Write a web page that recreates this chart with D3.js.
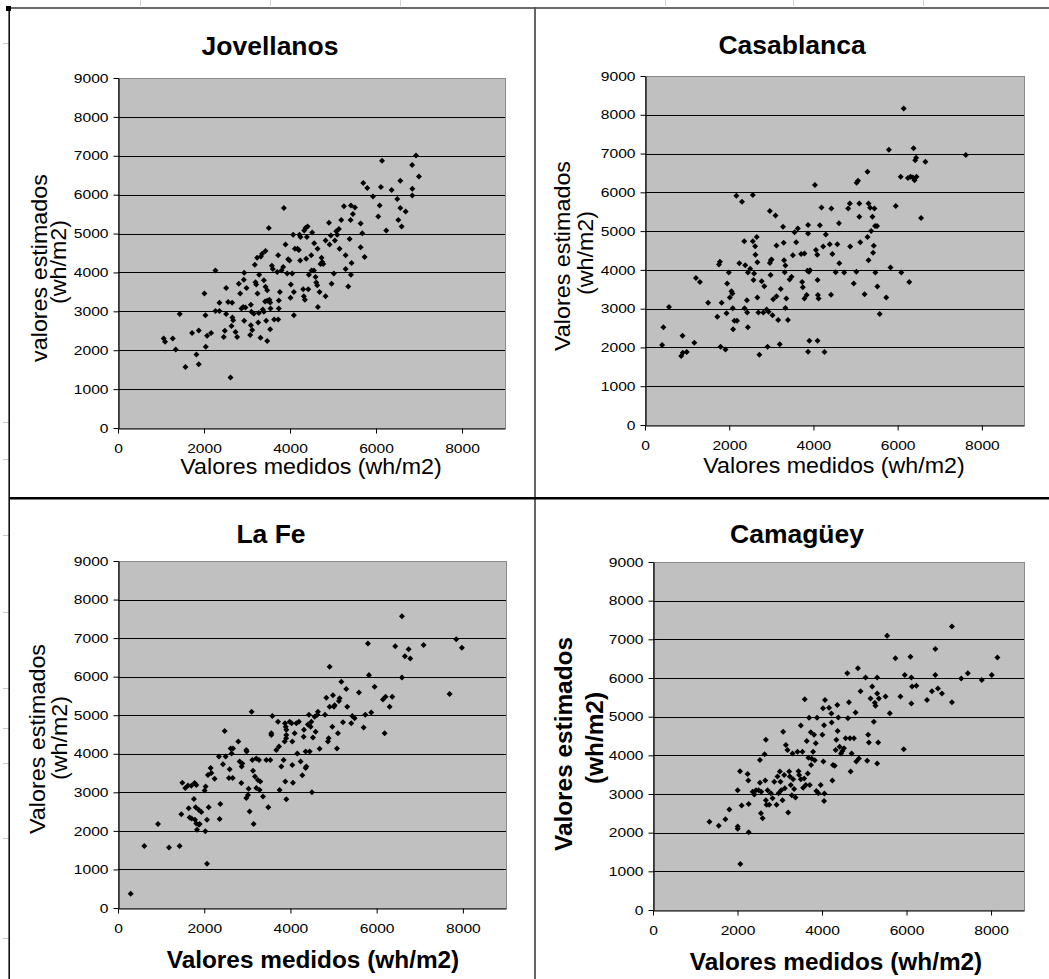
<!DOCTYPE html>
<html>
<head>
<meta charset="utf-8">
<script src="https://cdn.jsdelivr.net/npm/d3@7"></script>
<style>
  html, body { margin: 0; padding: 0; background: #fff; }
  svg { display: block; font-family: "Liberation Sans", Arial, Helvetica, sans-serif; }
</style>
</head>
<body>
<svg id="chart" width="1049" height="979"></svg>
<script>
// ---- Data: measured vs estimated daily radiation (wh/m2) per station ----
const stations = ["Jovellanos", "Casablanca", "La Fe", "Camagüey"];
const yTickValues = [0, 1000, 2000, 3000, 4000, 5000, 6000, 7000, 8000, 9000];
const xTickValues = [0, 2000, 4000, 6000, 8000];
const xAxisLabel = "Valores medidos (wh/m2)";

const jovellanosMedidos = [
  1063,1094,1273,1343,1436,1568,1723,1824,1878,1878,
  2010,2033,2041,2072,2165,2266,2266,2359,2359,2460,
  2484,2514,2514,2561,2616,2639,2654,2662,2678,2732,
  2771,2810,2841,2872,2934,2926,2911,2934,2989,2965,
  3090,3074,3090,3121,3105,3160,3182,3198,3213,3236,
  3244,3260,3275,3283,3314,3322,3353,3368,3392,3392,
  3430,3430,3446,3470,3470,3420,3470,3520,3540,3508,
  3539,3547,3578,3601,3632,3725,3740,3740,3764,3725,
  3702,3803,3857,3841,3896,3934,3958,3989,4012,4020,
  4051,4074,4090,4090,4113,4175,4206,4221,4237,4245,
  4307,4322,4346,4330,4361,4377,4393,4408,4424,4439,
  4494,4501,4516,4556,4563,4594,4610,4633,4641,4649,
  4688,4711,4734,4750,4773,4827,4827,4905,4920,4951,
  4967,5021,5044,5075,5099,5138,5153,5192,5254,5293,
  5293,5355,5386,5409,5417,5417,5432,5463,5510,5642,
  5642,5681,5735,5704,5797,5929,6053,6084,6115,6140,
  6239,6363,6495,6519,6565,6565,6596,6689,6840,6844,
  6844,6999,6930
];
const jovellanosEstimados = [
  2300,2220,2300,2020,2930,1570,2440,1890,2510,1640,
  3460,2900,2090,2370,2440,4050,3010,3220,3010,2340,
  2500,3600,2930,3240,1300,2620,3220,2840,2770,2470,
  2340,3710,3460,3070,3990,3810,3110,2760,3600,3100,
  3170,2390,2640,2520,2990,2940,4200,3750,3690,4380,
  3460,2710,2960,3940,2320,4410,4480,3050,3800,2990,
  4550,3630,2760,2240,3540,3250,3270,3300,3230,5140,
  2540,3070,4170,4090,2790,2790,3280,3070,3500,4440,
  4010,4050,5660,4140,4720,3970,4340,4310,3350,3690,
  3970,4970,2900,3500,4610,4610,4580,4970,4310,4910,
  3570,3390,3300,5080,5140,4350,4910,5180,3570,3940,
  4440,4050,5030,4050,4750,3880,3740,3670,4610,3110,
  3500,4220,4380,4270,4220,3390,4820,5280,4720,4950,
  3710,3970,4820,5060,4970,5120,4610,5350,5700,4440,
  4090,3640,4860,5350,5720,3940,4240,5500,5670,5260,
  4650,5010,4400,6300,6170,5950,5440,5720,6200,6870,
  5080,6120,5890,5350,6360,5660,5180,5570,6760,6150,
  5980,6470,7010
];

const casablancaMedidos = [
  406,437,570,859,898,890,991,1171,1210,1304,
  1499,1717,1756,1780,1795,1819,1912,1936,1951,1990,
  2014,2053,2076,2084,2092,2123,2170,2186,2240,2303,
  2357,2365,2381,2420,2427,2443,2443,2498,2560,2560,
  2576,2591,2615,2623,2654,2669,2669,2692,2716,2771,
  2810,2833,2888,2911,2935,2966,2966,2989,3005,2982,
  3028,3044,3099,3122,3122,3161,3200,3223,3278,3294,
  3302,3317,3333,3333,3356,3395,3434,3481,3512,3551,
  3590,3629,3708,3731,3747,3786,3786,3840,3856,3872,
  3872,3872,3895,3918,3903,4035,4059,4090,4098,4106,
  4122,4098,4153,4192,4231,4262,4294,4387,4426,4418,
  4450,4528,4567,4606,4614,4730,4825,4864,4872,4957,
  5020,5026,5058,5089,5089,5112,5214,5284,5284,5307,
  5307,5346,5370,5401,5416,5432,5448,5463,5471,5510,
  5518,5573,5729,5791,5830,5955,6072,6087,6143,6275,
  6244,6306,6361,6377,6400,6416,6439,6447,6556,6658,
  7618
];
const casablancaEstimados = [
  2060,2520,3040,1780,1860,2300,1880,2120,3790,3690,
  3150,2790,4140,4210,2020,3150,1950,2880,3650,3930,
  3290,3450,3390,3010,2470,2690,5910,2690,4170,5760,
  4740,3010,4120,3220,2900,2520,3930,4030,5930,4740,
  3740,3910,4610,4390,4850,4200,3290,2900,1810,3710,
  2900,3580,2980,2020,2920,5520,4180,4250,4270,3870,
  2830,3240,5400,4630,3320,2710,2080,3510,5110,4700,
  4250,3940,3020,4110,3260,2710,3750,3820,4380,4970,
  4710,5070,4410,3690,3550,4420,3260,3350,3980,4940,
  5160,1890,3950,3990,2170,6190,4510,4390,3740,3350,
  3260,2170,5150,5610,4600,1880,4910,4660,5580,3360,
  4410,3940,4660,5200,4170,3930,5580,5710,4600,3650,
  3950,6250,6300,5710,5370,4710,3370,6530,4850,4250,
  5710,5600,5000,5370,4440,4620,5580,5130,3930,5130,
  3570,2860,3290,7100,4060,5650,6400,3930,8160,3690,
  6370,6400,6380,7140,6310,6830,6890,6400,5340,6790,
  6960
];

const laFeMedidos = [
  294,611,928,1183,1430,1469,1492,1561,1623,1639,
  1662,1700,1708,1762,1778,1786,1801,1817,1817,1832,
  1871,1878,1894,1933,2010,2026,2033,2064,2064,2087,
  2103,2149,2164,2242,2342,2358,2373,2435,2474,2497,
  2574,2590,2613,2636,2660,2667,2791,2821,2860,2868,
  2883,2976,2984,2976,3015,3030,3053,3100,3115,3131,
  3146,3177,3208,3208,3246,3270,3285,3301,3363,3440,
  3486,3533,3556,3556,3579,3672,3711,3734,3749,3788,
  3842,3865,3873,3881,3904,3904,3904,3890,3900,3981,
  4027,4043,4043,4058,4097,4136,4159,4197,4236,4275,
  4306,4313,4352,4368,4352,4406,4429,4445,4468,4484,
  4499,4522,4561,4584,4623,4638,4677,4801,4832,4870,
  4886,4909,4909,4971,4986,5009,5025,5079,5102,5125,
  5141,5180,5218,5295,5318,5411,5434,5489,5589,5697,
  5736,5798,5821,5875,5952,6145,6184,6207,6300,6362,
  6431,6586,6586,6655,6741,6779,7088,7691,7846,7977
];
const laFeEstimados = [
  370,1610,2180,1570,1610,2430,3250,3110,3180,2590,
  2350,3170,2320,2830,3240,2290,2610,3190,2190,2030,
  2550,2160,2180,2490,3050,1990,3150,2290,1150,3450,
  2610,3630,3500,3350,3930,2310,2700,3730,4590,3930,
  3370,3600,4140,4010,3370,4140,4320,3800,3240,3670,
  3750,4100,4060,2850,2930,3090,2500,5090,3840,3560,
  2180,3410,3110,3880,3320,3840,3060,3280,2890,3840,
  2610,3840,4530,4490,4980,4100,4830,4190,3060,3670,
  3840,4320,4790,3280,2820,4620,4490,4700,4400,4830,
  4790,4320,3710,3250,4530,4790,4010,4830,3800,3440,
  4440,4620,3630,3670,4060,4760,5010,4060,4700,4830,
  3000,4420,4960,4570,5010,5090,4130,5010,5450,4320,
  4400,6260,5220,4700,5520,5220,5260,4140,4530,5370,
  5440,5870,4820,5680,5220,4790,4980,4920,5590,4680,
  5010,6860,6040,5070,5740,5410,4530,5480,5220,5480,
  6790,7570,5980,6530,6710,6470,6820,5550,6970,6750
];

const camagueyMedidos = [
  1336,1556,1713,1808,2004,2004,2004,2059,2067,2098,
  2240,2256,2264,2264,2358,2397,2437,2500,2531,2531,
  2555,2562,2594,2641,2657,2672,2672,2688,2712,2751,
  2790,2830,2869,2924,2947,2971,3002,3018,3034,3065,
  3081,3105,3120,3144,3183,3199,3223,3238,3262,3285,
  3301,3317,3340,3372,3419,3443,3458,3498,3498,3537,
  3553,3576,3592,3616,3639,3663,3678,3694,3710,3733,
  3741,3757,3788,3812,3828,3851,3867,3883,3914,3969,
  4009,4024,4032,4048,4048,4056,4071,4166,4221,4229,
  4245,4260,4300,4323,4339,4362,4370,4386,4417,4449,
  4480,4520,4559,4598,4614,4637,4661,4677,4700,4755,
  4794,4810,4850,4873,4912,5030,5069,5093,5109,5148,
  5187,5226,5250,5266,5305,5305,5305,5329,5345,5502,
  5541,5604,5738,5856,5934,5958,6092,6115,6115,6131,
  6233,6484,6602,6681,6681,6744,6838,7074,7074,7294,
  7451,7781,8017,8151
];
const camagueyEstimados = [
  2280,2180,2350,2600,3100,2160,2100,3590,1190,2700,
  3520,3350,2740,2010,3060,2990,3100,3100,3880,3290,
  2500,3060,2370,4030,3350,4400,2840,2720,3100,2720,
  3020,2890,3320,2720,3450,3020,3580,3320,3100,2840,
  4610,3490,3150,4270,4140,2520,3580,3450,3230,2970,
  4050,3380,3130,2910,4090,3590,3490,4770,3380,4090,
  3160,3400,5450,3230,4370,3530,3940,4970,3230,4600,
  3750,3910,4090,4530,3870,4310,3080,4970,3020,3230,
  4530,5220,3840,2820,4780,3010,5430,5230,5080,4850,
  3350,3750,3730,4140,4400,5300,4630,4980,4220,4050,
  4110,4180,4440,6120,4960,5370,4440,3580,4050,4440,
  5110,3840,6250,3920,5660,6010,3860,4530,4330,5470,
  5780,4870,5360,5280,6010,3790,5600,4330,5470,5520,
  7090,5090,6510,5520,4160,6080,6550,6010,5340,5780,
  5800,5430,5660,6750,6080,5730,5600,7330,5370,5990,
  6120,5950,6080,6530
];

// ---- Layout of the four chart objects on the sheet ----
const panels = [
  { name: stations[0], xs: jovellanosMedidos, ys: jovellanosEstimados, xMax: 9000,
    plot: { l: 118, t: 78, r: 505, b: 428 }, title: [270, 55],
    xTitle: { x: 311, y: 474, bold: false },
    yTitle: { bold: false, lines: [["valores estimados", 47, 268], ["(wh/m2)", 66, 262]] } },
  { name: stations[1], xs: casablancaMedidos, ys: casablancaEstimados, xMax: 9000,
    plot: { l: 645, t: 76, r: 1024, b: 425 }, title: [792, 54],
    xTitle: { x: 834, y: 473, bold: false },
    yTitle: { bold: false, lines: [["Valores estimados", 570, 256], ["(wh/m2)", 593, 253]] } },
  { name: stations[2], xs: laFeMedidos, ys: laFeEstimados, xMax: 9000,
    plot: { l: 118, t: 561, r: 506, b: 908 }, title: [271, 543],
    xTitle: { x: 313, y: 968, bold: true },
    yTitle: { bold: false, lines: [["Valores estimados", 45, 739], ["(wh/m2)", 67, 738]] } },
  { name: stations[3], xs: camagueyMedidos, ys: camagueyEstimados, xMax: 8780,
    plot: { l: 653, t: 562, r: 1024, b: 910 }, title: [797, 543],
    xTitle: { x: 836, y: 970, bold: true },
    yTitle: { bold: true, lines: [["Valores estimados", 572, 744], ["(wh/m2)", 603, 738]] } }
];

const svg = d3.select("#chart");
const TEXT_STRETCH = 1.06;   // the sheet renders its fonts slightly wide
const TICK_STRETCH = 1.2;

// ---- Sheet frame lines ----
const frame = svg.append("g").attr("class", "frame");
[140, 270, 400, 665, 793, 923].forEach(cx =>
  frame.append("line").attr("x1", cx + 0.5).attr("x2", cx + 0.5).attr("y1", 0).attr("y2", 6)
    .attr("stroke", "#d4d4d4"));
[43, 422, 459, 535, 612, 688, 728, 763, 838, 938].forEach(cy =>
  frame.append("line").attr("x1", 3).attr("x2", 9).attr("y1", cy + 0.5).attr("y2", cy + 0.5)
    .attr("stroke", "#c8c8c8"));
frame.append("line").attr("x1", 8).attr("x2", 1049).attr("y1", 8).attr("y2", 8)
  .attr("stroke", "#3a3a3a").attr("stroke-width", 1.6);
frame.append("line").attr("x1", 9.2).attr("x2", 9.2).attr("y1", 8).attr("y2", 979)
  .attr("stroke", "#111").attr("stroke-width", 1.6);
frame.append("line").attr("x1", 535).attr("x2", 535).attr("y1", 7).attr("y2", 979)
  .attr("stroke", "#555").attr("stroke-width", 1.8);
frame.append("line").attr("x1", 9).attr("x2", 1049).attr("y1", 498.2).attr("y2", 498.2)
  .attr("stroke", "#000").attr("stroke-width", 2.6);
frame.append("rect").attr("x", 6).attr("y", 6).attr("width", 5).attr("height", 5).attr("fill", "#000");

// ---- Helpers ----
function label(g, text, x, y, size, bold, rot, stretch) {
  g.append("text")
    .attr("transform", `translate(${x},${y})${rot ? ` rotate(${rot})` : ""} scale(${stretch || TEXT_STRETCH},1)`)
    .attr("text-anchor", "middle")
    .attr("font-size", size)
    .attr("font-weight", bold ? "bold" : "normal")
    .attr("fill", "#000")
    .text(text);
}

const diamond = d3.symbol(d3.symbolSquare, 18);

function drawPanel(p) {
  const g = svg.append("g").attr("class", "panel");
  const { l, t, r, b } = p.plot;
  const x = d3.scaleLinear().domain([0, p.xMax]).range([l, r]);
  const y = d3.scaleLinear().domain([0, 9000]).range([b, t]);

  // plot area
  g.append("rect")
    .attr("x", l + 0.5).attr("y", t + 0.5)
    .attr("width", r - l).attr("height", b - t)
    .attr("fill", "#c0c0c0").attr("stroke", "#8a8a8a").attr("stroke-width", 1);

  // horizontal gridlines
  g.append("g").selectAll("line")
    .data(yTickValues.filter(v => v > 0 && v < 9000))
    .join("line")
    .attr("x1", l).attr("x2", r)
    .attr("y1", d => Math.round(y(d)) + 0.5).attr("y2", d => Math.round(y(d)) + 0.5)
    .attr("stroke", "#000").attr("stroke-width", 1.1);

  // y axis
  const ya = g.append("g").attr("transform", `translate(${l + 0.5},0)`)
    .call(d3.axisLeft(y).tickValues(yTickValues).tickSize(5).tickSizeOuter(0)
      .tickPadding(5).tickFormat(d3.format("d")));
  // x axis
  const xa = g.append("g").attr("transform", `translate(0,${b + 0.5})`)
    .call(d3.axisBottom(x).tickValues(xTickValues).tickSize(5).tickSizeOuter(0)
      .tickPadding(10).tickFormat(d3.format("d")));

  [ya, xa].forEach(ax => {
    ax.attr("font-family", null).attr("font-size", null);
    ax.select(".domain").attr("stroke", "#000").attr("stroke-width", 1.2);
    ax.selectAll(".tick line").attr("stroke", "#000");
    ax.selectAll(".tick text").attr("fill", "#000").attr("font-size", 13);
  });
  ya.selectAll(".tick text")
    .attr("x", function () { return +this.getAttribute("x") / TICK_STRETCH; })
    .attr("transform", `scale(${TICK_STRETCH},1)`);
  xa.selectAll(".tick text").attr("transform", `scale(${TICK_STRETCH},1)`);

  // scatter points (diamond markers)
  g.append("g").selectAll("path")
    .data(d3.zip(p.xs, p.ys))
    .join("path")
    .attr("d", diamond)
    .attr("transform", d => `translate(${x(d[0])},${y(d[1])}) rotate(45)`)
    .attr("fill", "#000");

  // titles
  label(g, p.name, p.title[0], p.title[1], 25, true, 0);
  if (p.xTitle.bold) {
    label(g, xAxisLabel, p.xTitle.x, p.xTitle.y, 23, true, 0);
  } else {
    label(g, xAxisLabel, p.xTitle.x, p.xTitle.y, 21.5, false, 0, 1.08);
  }
  p.yTitle.lines.forEach(([txt, bx, cy]) =>
    label(g, txt, bx, cy, p.yTitle.bold ? 23 : 22, p.yTitle.bold, -90));
}

panels.forEach(drawPanel);
</script>
</body>
</html>
